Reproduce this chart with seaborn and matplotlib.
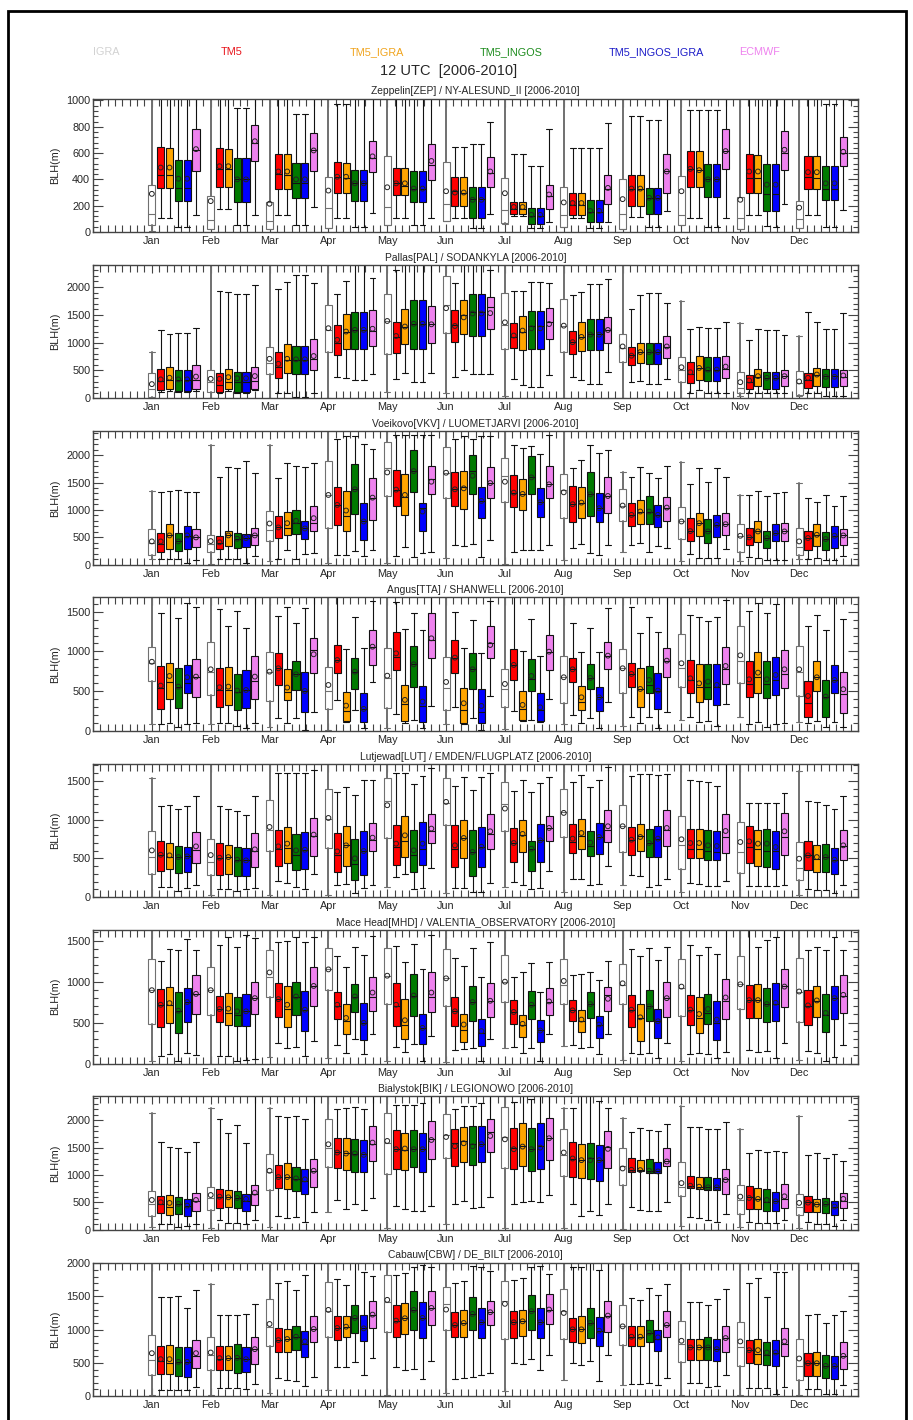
import numpy as np
import pandas as pd
import matplotlib
matplotlib.use("Agg")
import matplotlib.pyplot as plt
import seaborn as sns
from matplotlib.patches import Rectangle

MONTHS = ["Jan", "Feb", "Mar", "Apr", "May", "Jun", "Jul", "Aug", "Sep", "Oct", "Nov", "Dec"]
MODELS = ["IGRA", "TM5", "TM5_IGRA", "TM5_INGOS", "TM5_INGOS_IGRA", "ECMWF"]
LEGEND_COLORS = ["#d2d2d2", "#e8141b", "#f0a41e", "#1e8c1e", "#1c1cc8", "#ee82ee"]
FILL_COLORS = ["white", "#ff0000", "#ffa500", "#007a00", "#0000ff", "#ee82ee"]

# each month: (whisker low, q1, median, q3, whisker high, mean)  [m]
ZEP_IGRA = [(10,50,135,360,1100,290),(20,25,90,275,1100,235),(20,25,85,230,1100,215),(30,30,180,415,1100,315),(50,50,190,575,1100,340),(85,85,215,530,1100,310),(60,65,165,410,1100,295),(40,40,130,340,1100,225),(25,25,135,405,1100,250),(50,50,130,425,1100,310),(20,20,110,265,1100,245),(30,30,100,235,1100,185)]
ZEP_TM5 = [(105,335,430,645,1100,490),(175,340,480,635,1100,500),(130,330,440,590,1100,460),(110,300,420,530,975,420),(105,280,370,490,1100,370),(105,200,310,415,650,300),(120,135,175,230,590,190),(105,130,205,295,635,220),(115,200,330,430,885,330),(110,340,480,615,930,480),(130,300,410,590,1100,460),(130,330,420,580,1100,455)]
ZEP_TI = [(105,335,430,640,1100,490),(175,340,480,630,1100,500),(130,330,430,590,1100,460),(110,295,410,525,970,420),(105,280,350,490,1100,370),(105,200,300,415,650,300),(120,135,175,230,590,190),(105,130,205,295,635,220),(115,200,330,430,885,330),(110,340,470,615,930,470),(130,300,410,585,1100,460),(130,330,410,580,1100,455)]
ZEP_TN = [(40,235,335,550,1100,405),(50,230,400,565,940,400),(55,255,370,525,895,400),(40,235,370,475,1100,370),(55,225,330,465,1100,330),(30,105,250,345,670,245),(30,60,120,185,505,130),(30,75,150,240,635,160),(35,135,255,335,850,260),(40,265,400,515,930,400),(45,160,290,520,1100,360),(40,240,330,500,970,370)]
ZEP_TNI = [(40,235,335,550,1100,405),(50,230,400,565,940,400),(55,255,370,525,895,400),(40,235,370,475,1100,370),(55,225,330,465,1100,330),(30,105,250,345,670,245),(30,60,120,185,505,130),(30,75,150,240,635,160),(35,135,255,335,850,260),(40,265,400,515,930,400),(40,160,290,520,1100,360),(40,240,330,500,970,370)]
ZEP_EC = [(130,460,620,780,1100,630),(130,540,680,815,1100,690),(190,460,620,750,1100,620),(145,455,560,690,1100,575),(110,395,510,670,1100,540),(135,340,450,570,840,460),(75,175,275,360,780,285),(75,210,330,430,825,335),(160,300,460,590,1100,460),(110,480,615,780,1100,615),(215,470,600,765,1100,625),(165,500,600,720,1100,610)]

PAL_IGRA = [(0,30,170,455,830,255),(0,110,290,500,2600,350),(0,440,640,920,2600,710),(0,840,1230,1670,2600,1260),(120,790,1390,1880,2600,1390),(100,1180,1680,2190,2600,1620),(40,890,1320,1900,2600,1365),(0,837,1300,1786,2600,1306),(0,653,900,1157,2600,932),(12,291,500,742,1750,558),(40,89,190,475,1347,290),(40,59,280,487,1128,302)]
PAL_TM5 = [(120,150,310,520,1230,340),(100,115,240,460,1920,350),(90,370,560,830,1970,620),(380,780,1000,1320,1870,1050),(340,810,1100,1380,2300,1120),(385,1020,1310,1596,2070,1300),(338,896,1110,1360,1930,1128),(374,789,1010,1210,1863,1009),(297,600,780,920,1608,766),(100,273,430,653,1240,469),(100,172,300,427,1050,320),(100,190,320,457,1549,368)]
PAL_TI = [(140,170,330,560,1150,370),(140,160,290,530,1910,380),(90,450,680,970,2090,710),(370,890,1190,1510,2100,1200),(460,970,1280,1610,2600,1290),(516,1150,1500,1775,2600,1455),(231,872,1200,1478,1930,1217),(326,849,1100,1365,1917,1104),(315,635,830,997,1852,831),(142,332,540,765,1288,546),(100,214,390,528,1252,398),(100,220,420,546,1365,427)]
PAL_TN = [(110,130,320,510,1170,340),(100,115,290,480,1870,360),(30,440,690,940,2220,700),(320,890,1230,1560,2600,1230),(300,890,1340,1770,2600,1340),(433,1128,1550,1870,2600,1525),(196,884,1300,1567,2095,1258),(261,866,1150,1424,2059,1145),(261,623,830,997,1899,831),(100,303,500,736,1270,516),(89,166,360,480,1228,368),(40,196,400,534,1240,386)]
PAL_TNI = [(110,130,320,510,1170,340),(100,115,290,480,1870,360),(30,440,690,940,2220,700),(320,890,1230,1560,2600,1230),(300,890,1340,1770,2600,1340),(433,1128,1550,1870,2600,1525),(196,884,1300,1567,2095,1258),(261,866,1150,1424,2059,1145),(261,623,830,997,1899,831),(100,303,500,736,1270,516),(89,166,360,480,1228,368),(40,196,400,534,1240,386)]
PAL_EC = [(140,160,330,590,1260,390),(150,170,310,570,2040,400),(90,500,700,1070,2070,760),(430,940,1210,1590,2170,1250),(460,990,1330,1660,2600,1330),(433,1246,1644,1822,2300,1531),(427,1074,1380,1620,2071,1335),(475,1003,1230,1454,2142,1228),(344,724,920,1116,1715,932),(100,368,530,760,1377,570),(89,225,400,510,1133,398),(40,220,380,516,1537,410)]

VKV_IGRA = [(109,176,394,648,1345,424),(18,224,380,545,2194,430),(60,436,636,982,2194,751),(30,673,1273,1897,2600,1273),(30,1254,1770,2242,2600,1685),(121,1224,1680,2151,2600,1679),(12,1139,1624,1957,2600,1515),(79,854,1364,1660,2600,1321),(230,806,1079,1376,1700,1079),(60,461,788,1048,1879,788),(60,230,527,751,1273,527),(109,170,321,673,1485,424)]
VKV_TM5 = [(103,236,378,576,1321,424),(109,279,390,527,1600,406),(109,485,679,891,1576,679),(182,715,1091,1412,2290,1091),(151,1073,1370,1721,2363,1370),(351,1079,1376,1685,2290,1376),(230,1048,1315,1636,2182,1315),(303,776,1103,1436,1757,1103),(351,697,909,1127,1606,909),(194,424,612,848,1467,612),(133,351,497,673,1273,497),(109,267,485,606,1224,485)]
VKV_TI = [(103,279,545,745,1345,533),(103,339,533,612,1782,533),(260,533,666,970,1866,757),(182,612,897,1345,2351,988),(321,909,1230,1660,2363,1273),(333,1018,1412,1703,2351,1394),(273,1006,1291,1557,2139,1291),(376,848,1133,1424,1909,1133),(394,751,970,1188,1776,970),(121,515,757,951,1770,757),(121,418,606,800,1345,606),(121,345,545,739,1139,545)]
VKV_TN = [(103,242,424,582,1357,424),(109,297,473,582,1757,473),(109,558,757,994,1806,800),(242,921,1376,1842,2351,1376),(139,1333,1709,2103,2363,1709),(382,1285,1715,2000,2290,1624),(273,1285,1594,1981,2170,1594),(212,891,1285,1691,2182,1285),(230,739,970,1254,1667,970),(121,394,606,830,1515,606),(79,297,485,612,1254,485),(79,261,467,588,1273,467)]
VKV_TNI = [(36,291,515,697,1327,533),(30,327,485,564,1885,485),(194,466,660,800,1782,660),(151,442,788,1133,2212,788),(212,606,1030,1133,2363,970),(133,848,1164,1418,2351,1164),(273,873,1139,1400,2030,1139),(182,776,1030,1309,2048,1030),(333,679,909,1091,1576,909),(121,503,727,909,1770,727),(79,424,575,751,1303,575),(79,297,527,697,1079,527)]
VKV_EC = [(79,315,497,642,1327,497),(151,364,533,660,1667,533),(206,618,757,1067,1866,848),(273,818,1224,1576,2121,1224),(224,1285,1557,1806,2363,1515),(454,1212,1491,1788,2351,1491),(364,1224,1467,1794,2363,1467),(364,939,1254,1600,2091,1254),(303,800,1042,1242,1806,1042),(285,533,739,939,1606,739),(79,424,606,757,1333,606),(151,351,533,648,1260,533)]

TTA_IGRA = [(84,633,850,1052,1800,870),(84,453,746,1115,1800,775),(46,373,746,997,1800,746),(13,272,503,809,1800,578),(34,293,662,1039,1800,695),(84,264,536,926,1800,616),(21,297,528,775,1800,591),(84,348,675,947,1800,675),(67,482,788,1027,1800,788),(138,557,788,1215,1800,851),(180,599,880,1320,1800,951),(117,444,737,1068,1800,775)]
TTA_TM5 = [(88,272,536,817,1487,570),(96,297,515,788,1534,549),(168,578,788,976,1445,788),(390,725,892,1081,1800,892),(209,767,934,1249,1626,976),(306,725,922,1144,1500,922),(251,641,830,1027,1800,830),(201,612,775,913,1353,775),(180,549,717,851,1563,717),(180,473,641,888,1458,662),(88,423,591,880,1513,649),(96,180,348,633,1324,440)]
TTA_TI = [(105,398,620,851,1800,691),(96,331,515,800,1320,557),(96,390,494,775,1563,545),(117,122,251,486,1031,318),(105,126,335,578,1278,390),(90,96,264,541,1048,348),(120,138,272,503,1010,327),(96,264,369,570,997,423),(96,297,525,788,1228,528),(117,360,557,838,1437,599),(117,473,675,989,1605,733),(130,499,675,880,1458,675)]
TTA_TN = [(54,285,557,788,1416,557),(63,260,494,712,1513,507),(159,515,712,884,1353,712),(264,524,746,922,1437,746),(138,557,838,1073,1479,838),(168,532,775,976,1395,775),(138,507,654,905,1408,691),(159,524,666,842,1290,666),(180,482,578,817,1429,641),(126,398,557,838,1387,620),(54,415,591,880,1479,649),(54,180,432,641,1270,432)]
TTA_TNI = [(84,482,600,830,1613,675),(34,285,515,767,1290,515),(13,235,503,746,1542,503),(34,117,277,473,1039,277),(34,117,314,566,1270,369),(13,105,243,532,985,314),(110,126,264,482,943,297),(42,256,423,549,997,423),(34,277,507,733,1249,507),(63,331,557,838,1437,578),(88,453,641,926,1596,704),(117,473,641,834,1800,641)]
TTA_EC = [(96,423,683,901,1563,683),(96,406,633,947,1800,683),(243,733,1018,1173,1800,964),(620,830,1060,1270,1640,1060),(314,913,1144,1479,1800,1165),(440,913,1102,1324,1640,1081),(402,767,997,1207,1800,997),(360,775,947,1123,1542,947),(243,683,884,1039,1800,884),(339,587,775,1052,1647,817),(96,536,717,1018,1800,775),(54,230,465,737,1404,524)]

LUT_IGRA = [(9,297,517,849,1539,603),(22,284,453,750,1850,543),(22,599,870,1254,1850,905),(30,634,1013,1396,1850,1021),(129,763,1237,1530,1850,1185),(52,927,1215,1530,1850,1228),(125,849,1207,1487,1850,1142),(73,771,1099,1388,1850,1086),(151,582,914,1194,1850,914),(65,366,668,1043,1850,746),(9,310,582,970,1850,711),(22,224,375,707,1625,496)]
LUT_TM5 = [(129,332,539,728,1177,547),(108,289,509,698,1177,509),(203,401,625,866,1595,655),(159,319,547,827,1349,590),(259,418,646,931,1603,690),(121,392,625,927,1435,668),(194,448,698,888,1366,698),(237,573,711,948,1487,754),(280,547,741,905,1565,741),(181,500,625,879,1508,698),(138,435,642,918,1220,720),(108,345,539,728,1241,539)]
LUT_TI = [(129,366,517,694,1194,539),(108,297,517,672,1142,517),(181,440,634,901,1595,690),(164,401,668,918,1422,668),(302,517,724,1043,1595,797),(121,504,763,1000,1552,763),(151,582,806,996,1508,815),(237,616,789,1009,1573,827),(267,595,789,940,1582,776),(172,500,625,879,1496,698),(138,401,625,871,1220,690),(99,323,487,672,1228,517)]
LUT_TN = [(86,310,517,655,1134,517),(82,267,483,642,1116,483),(129,349,547,819,1595,603),(52,228,431,754,1315,500),(108,319,547,871,1457,603),(65,276,582,866,1379,582),(108,332,625,724,1349,625),(151,530,659,849,1422,703),(129,513,698,884,1582,698),(142,483,590,871,1487,668),(138,388,590,884,1220,690),(99,323,517,685,1185,517)]
LUT_TNI = [(116,328,526,642,1172,526),(108,267,474,629,1056,474),(108,366,612,840,1595,612),(116,280,595,853,1508,595),(116,414,625,965,1565,690),(73,384,651,905,1552,651),(116,448,733,940,1465,733),(172,552,776,957,1508,776),(159,517,754,914,1573,754),(142,483,582,858,1435,659),(138,366,590,849,1220,646),(52,302,483,629,1142,483)]
LUT_EC = [(151,444,612,845,1310,655),(116,388,590,832,1310,616),(302,530,789,1021,1638,806),(151,590,741,961,1508,767),(375,694,849,1069,1660,884),(177,616,815,1073,1603,849),(332,720,892,1043,1552,892),(397,711,871,1125,1681,914),(237,664,862,1125,1582,892),(215,569,776,1073,1850,853),(151,543,776,1090,1345,849),(159,478,659,871,1306,668)]

MHD_IGRA = [(32,484,895,1270,1750,895),(0,592,895,1177,1750,895),(81,818,1060,1382,1750,1112),(64,895,1149,1415,1750,1149),(32,725,1072,1411,1750,1072),(24,705,1040,1402,1750,1040),(193,750,999,1322,1750,999),(214,725,959,1282,1750,1008),(40,729,959,1217,1750,979),(32,576,919,1282,1750,939),(0,665,967,1310,1750,967),(44,512,879,1290,1750,879)]
MHD_TM5 = [(93,443,717,907,1250,717),(97,508,665,826,1451,665),(246,564,786,987,1483,786),(222,548,697,879,1314,717),(206,455,697,979,1435,717),(161,455,637,806,1294,637),(201,488,629,770,1060,629),(222,516,649,778,1080,649),(133,447,657,838,1402,657),(113,467,657,838,1443,657),(161,556,774,963,1750,774),(153,476,697,899,1382,709)]
MHD_TI = [(121,496,717,931,1402,737),(97,467,617,862,1543,669),(185,443,665,947,1491,717),(125,355,516,725,1173,556),(141,302,476,786,1241,528),(173,266,415,604,1193,476),(125,326,467,596,1120,484),(193,387,524,657,1088,536),(113,270,556,725,1310,564),(129,367,556,806,1322,604),(145,552,774,967,1423,774),(133,568,758,947,1423,770)]
MHD_TN = [(32,375,637,870,1382,645),(32,463,596,814,1418,637),(201,588,818,999,1543,818),(294,625,818,971,1423,818),(242,576,830,1088,1463,830),(193,524,750,947,1415,750),(193,548,717,891,1233,717),(201,556,725,879,1120,725),(125,516,697,895,1415,697),(121,484,617,846,1423,665),(153,512,725,927,1503,725),(32,387,596,850,1382,617)]
MHD_TNI = [(125,508,750,927,1515,750),(40,455,637,854,1563,637),(93,395,657,887,1483,657),(120,282,496,737,1330,496),(32,234,435,604,1149,435),(32,214,375,544,1060,395),(32,266,403,532,879,403),(113,314,476,584,1020,476),(73,306,516,661,1261,516),(64,290,496,758,1342,536),(64,520,725,987,1543,741),(81,544,798,947,1543,798)]
MHD_EC = [(105,604,850,1076,1382,850),(60,604,798,991,1531,798),(274,697,947,1181,1543,947),(363,645,818,1060,1556,866),(334,629,806,1112,1564,866),(294,564,766,979,1483,766),(355,596,750,927,1241,758),(363,645,838,939,1253,790),(246,572,798,995,1423,798),(141,548,766,1032,1750,806),(254,689,951,1153,1750,939),(226,617,826,1076,1382,838)]

BIK_IGRA = [(48,261,473,715,2139,545),(30,370,582,776,2218,636),(48,733,1061,1382,2230,1079),(333,1139,1503,2024,2600,1563),(30,1018,1594,2139,2600,1624),(109,1309,1733,2115,2600,1697),(30,1127,1697,2242,2600,1654),(30,988,1370,1836,2230,1412),(18,818,1170,1497,2048,1121),(67,624,776,1248,2260,854),(48,291,545,824,1848,606),(30,273,412,654,2079,491)]
BIK_TM5 = [(109,303,470,624,1612,503),(170,406,606,745,2030,606),(261,758,958,1182,2079,964),(545,1127,1424,1685,2212,1412),(442,1109,1485,1818,2290,1473),(473,1157,1594,1848,2212,1527),(473,1109,1503,1867,2333,1473),(473,958,1303,1606,2218,1303),(412,1061,1097,1315,1788,1097),(242,764,800,982,1885,806),(139,376,594,806,1412,582),(139,333,515,624,1364,497)]
BIK_TI = [(109,273,424,636,1521,491),(121,424,594,733,1776,594),(224,739,958,1212,2060,964),(382,1091,1412,1685,2230,1394),(382,1091,1460,1764,2272,1485),(521,1242,1624,1885,2260,1582),(515,1157,1533,1945,2600,1521),(261,939,1273,1570,2600,1273),(364,1067,1091,1279,1867,1091),(212,745,788,958,1885,788),(121,382,564,764,1455,564),(109,321,473,558,1412,461)]
BIK_TN = [(48,291,473,594,1503,473),(121,394,582,709,1915,582),(230,703,927,1145,2079,939),(473,1048,1394,1654,2242,1394),(351,1139,1473,1830,2290,1473),(400,1188,1564,1897,2260,1527),(521,1067,1473,1867,2382,1473),(351,921,1309,1588,2600,1273),(339,1042,1079,1291,1824,1079),(182,733,776,958,1848,776),(121,339,515,745,1430,545),(109,309,473,576,1321,473)]
BIK_TNI = [(61,261,442,564,1430,442),(109,351,533,648,1588,564),(151,654,897,1115,2018,921),(364,1048,1394,1636,2212,1370),(351,1048,1473,1770,2321,1473),(424,1248,1564,1897,2321,1564),(503,1109,1533,1957,2600,1503),(273,885,1273,1557,2363,1273),(351,1036,1070,1242,1806,1067),(139,733,776,945,1836,776),(121,351,533,685,1442,521),(61,279,424,521,1382,424)]
BIK_EC = [(109,351,521,673,1606,545),(188,448,654,824,2600,679),(321,788,1079,1303,2600,1079),(582,1260,1576,1903,2600,1594),(442,1291,1667,1988,2600,1642),(606,1430,1794,2024,2600,1715),(642,1273,1673,2048,2600,1673),(473,1121,1515,1800,2218,1479),(503,1164,1260,1491,1939,1248),(291,654,927,1115,1970,909),(170,394,564,836,1430,612),(182,394,521,673,1260,564)]

CBW_IGRA = [(15,313,540,919,2150,646),(10,394,621,884,1682,656),(40,752,1035,1464,2150,1086),(86,884,1288,1717,2150,1298),(10,970,1420,1828,2150,1449),(50,995,1389,1641,2150,1303),(76,853,1439,1732,2150,1389),(237,859,1288,1616,2150,1252),(162,768,1050,1379,2150,1050),(10,515,783,1136,2150,833),(10,454,742,1121,2150,823),(10,242,454,859,2150,566)]
CBW_TM5 = [(86,328,530,758,1490,556),(126,394,556,752,1222,571),(278,662,843,1020,1702,843),(439,848,1025,1212,1768,1025),(439,884,1136,1374,1818,1136),(253,884,1071,1273,1702,1071),(505,874,1111,1288,1742,1111),(505,808,1005,1177,1944,1005),(187,747,894,1060,1475,894),(202,540,732,859,1414,732),(126,495,692,848,1702,692),(101,303,495,656,1222,495)]
CBW_TI = [(86,328,495,773,1490,556),(126,394,571,752,1222,571),(242,667,859,1005,1727,859),(439,884,1045,1212,1677,1045),(389,934,1172,1404,1853,1172),(278,894,1101,1303,1727,1101),(480,904,1126,1298,1778,1126),(465,798,1005,1207,1944,1005),(177,747,894,1060,1454,894),(202,540,732,859,1424,732),(126,485,641,859,1778,692),(111,303,495,667,1237,495)]
CBW_TN = [(86,303,515,732,1500,515),(126,354,576,783,1227,576),(227,692,894,1050,1591,894),(515,954,1177,1374,2150,1177),(404,995,1298,1576,1944,1298),(293,1000,1237,1490,1955,1237),(566,995,1278,1525,1944,1278),(530,874,1101,1323,2150,1101),(202,808,954,1146,1631,954),(136,540,732,894,1379,732),(126,470,621,818,1490,656),(25,268,454,616,1101,454)]
CBW_TNI = [(86,288,515,732,1323,515),(101,364,556,732,1237,556),(152,596,783,985,1818,823),(318,833,1020,1222,1869,1020),(263,874,1177,1424,1980,1177),(313,869,1111,1328,1944,1111),(394,874,1111,1323,1955,1111),(227,758,975,1197,1894,985),(167,672,859,995,1525,884),(152,530,707,859,1464,707),(25,454,656,848,1869,656),(25,263,454,601,1222,454)]
CBW_EC = [(136,429,606,848,1601,646),(177,490,707,884,1384,707),(288,808,1010,1202,2150,1010),(581,1025,1227,1439,1808,1227),(530,1076,1328,1581,1944,1328),(354,1071,1263,1439,1884,1263),(621,1086,1303,1540,1843,1303),(621,970,1212,1439,2150,1212),(268,884,1071,1288,1692,1071),(318,667,874,1055,1616,874),(136,606,783,1020,1869,823),(162,414,606,808,1288,606)]

# title, series (in MODELS order), y max, major y step
STATIONS = [
    ("Zeppelin[ZEP] / NY-ALESUND_II [2006-2010]", [ZEP_IGRA, ZEP_TM5, ZEP_TI, ZEP_TN, ZEP_TNI, ZEP_EC], 1015, 200),
    ("Pallas[PAL] / SODANKYLA [2006-2010]", [PAL_IGRA, PAL_TM5, PAL_TI, PAL_TN, PAL_TNI, PAL_EC], 2400, 500),
    ("Voeikovo[VKV] / LUOMETJARVI [2006-2010]", [VKV_IGRA, VKV_TM5, VKV_TI, VKV_TN, VKV_TNI, VKV_EC], 2440, 500),
    ("Angus[TTA] / SHANWELL [2006-2010]", [TTA_IGRA, TTA_TM5, TTA_TI, TTA_TN, TTA_TNI, TTA_EC], 1680, 500),
    ("Lutjewad[LUT] / EMDEN/FLUGPLATZ [2006-2010]", [LUT_IGRA, LUT_TM5, LUT_TI, LUT_TN, LUT_TNI, LUT_EC], 1720, 500),
    ("Mace Head[MHD] / VALENTIA_OBSERVATORY [2006-2010]", [MHD_IGRA, MHD_TM5, MHD_TI, MHD_TN, MHD_TNI, MHD_EC], 1630, 500),
    ("Bialystok[BIK] / LEGIONOWO [2006-2010]", [BIK_IGRA, BIK_TM5, BIK_TI, BIK_TN, BIK_TNI, BIK_EC], 2440, 500),
    ("Cabauw[CBW] / DE_BILT [2006-2010]", [CBW_IGRA, CBW_TM5, CBW_TI, CBW_TN, CBW_TNI, CBW_EC], 2010, 500),
]

sns.set_style("ticks")
plt.rcParams["font.family"] = ["Liberation Sans", "DejaVu Sans"]

W, H = 913, 1420
fig = plt.figure(figsize=(W / 100, H / 100), dpi=100)

# outer frame
fig.patches.append(Rectangle((8 / W, -0.01), (906 - 8) / W, (H - 11) / H + 0.01,
                             transform=fig.transFigure, fill=False, lw=2, ec="black"))

# colour legend row and main title
legend_x = [106, 232, 377, 511, 656, 760]
for name, col, xp in zip(MODELS, LEGEND_COLORS, legend_x):
    fig.text(xp / W, 1 - 52 / H, name, color=col, fontsize=7.8, ha="center", va="center")
fig.text(449 / W, 1 - 71 / H, "12 UTC  [2006-2010]", fontsize=10.5, ha="center", va="center")

spine_col = "#444444"
offsets = 0.15 * np.arange(6)

for i, (title, series, ymax, ystep) in enumerate(STATIONS):
    top = 98.5 + i * 166.3
    ax = fig.add_axes([93 / W, 1 - (top + 133.5) / H, 765 / W, 133.5 / H])

    rows = []
    for k, (vals, fill) in enumerate(zip(series, FILL_COLORS)):
        pos = np.arange(1, 13) + offsets[k]
        bstats = [dict(whislo=v[0], q1=v[1], med=v[2], q3=v[3], whishi=v[4], fliers=[]) for v in vals]
        edge = "#707070" if k == 0 else "#111111"
        ax.bxp(bstats, positions=pos, widths=0.12, patch_artist=True, showfliers=False,
               manage_ticks=False, capwidths=0.1,
               boxprops=dict(facecolor=fill, edgecolor=edge, linewidth=0.8),
               medianprops=dict(color=edge, linewidth=0.8),
               whiskerprops=dict(color=edge, linewidth=1.4 if k == 0 else 0.8),
               capprops=dict(color=edge, linewidth=0.8))
        for p, v in zip(pos, vals):
            rows.append({"x": p, "mean": v[5], "model": MODELS[k]})

    means = pd.DataFrame(rows)
    sns.scatterplot(data=means, x="x", y="mean", ax=ax, marker="o", s=12,
                    facecolor="none", edgecolor="#222222", linewidth=0.7, legend=False, zorder=5)

    ax.set_xlim(0, 13)
    ax.set_ylim(0, ymax)
    ax.set_xticks(np.arange(1, 13))
    ax.set_xticklabels(MONTHS)
    ax.set_xticks(np.arange(0, 13.01, 1 / 8), minor=True)
    ax.set_yticks(np.arange(0, ymax + 1, ystep))
    ax.set_yticks(np.arange(0, ymax + 1, ystep / 5), minor=True)
    ax.tick_params(axis="both", which="both", direction="in", top=True, right=True,
                   color=spine_col, labelsize=7.8, pad=2)
    ax.tick_params(axis="y", which="major", length=7, width=0.8)
    ax.tick_params(axis="y", which="minor", length=3.5, width=0.8)
    ax.tick_params(axis="x", which="major", length=6, width=0.8, pad=3)
    ax.tick_params(axis="x", which="minor", length=5, width=0.8)
    ax.set_xlabel("")
    ax.set_ylabel("BLH(m)", fontsize=7.8, labelpad=4)
    for sp in ax.spines.values():
        sp.set_color(spine_col)
        sp.set_linewidth(1.0)
    ax.set_title(title, fontsize=7.4, pad=3)

fig.savefig("out.png", dpi=100)
